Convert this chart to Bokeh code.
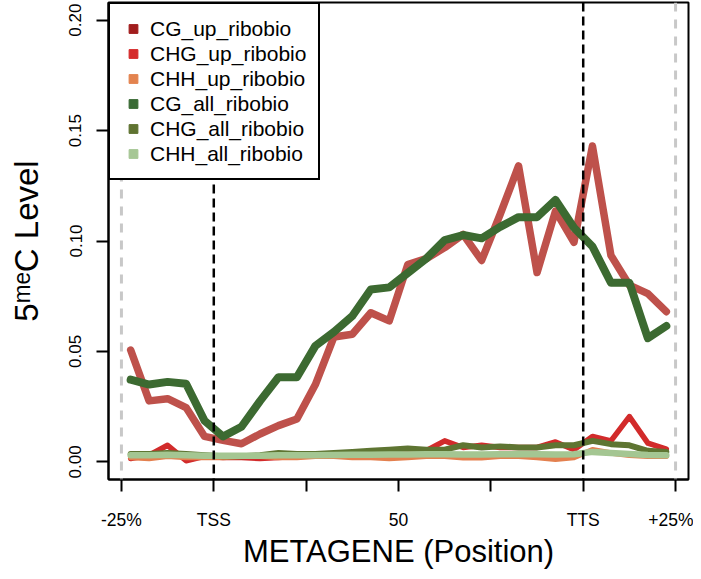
import numpy as np
from bokeh.plotting import figure
from bokeh.models import Span, Legend, LegendItem, FixedTicker, Range1d
from bokeh.embed import file_html
from bokeh.resources import INLINE

# ---- data ----
bins = [i + 0.5 for i in range(30)]
cg_up = [0.0506, 0.0276, 0.0286, 0.0246, 0.0115, 0.0097, 0.0082, 0.0126, 0.0164, 0.0194,
         0.0350, 0.0565, 0.0578, 0.0675, 0.0638, 0.0893, 0.0920, 0.0970, 0.1030, 0.0912,
         0.1120, 0.1340, 0.0857, 0.1136, 0.0994, 0.1430, 0.0935, 0.0800, 0.0762, 0.0680]
chg_up = [0.0015, 0.0030, 0.0075, 0.0005, 0.0025, 0.0020, 0.0020, 0.0015, 0.0020, 0.0025,
          0.0025, 0.0030, 0.0030, 0.0035, 0.0040, 0.0040, 0.0050, 0.0095, 0.0065, 0.0075,
          0.0065, 0.0065, 0.0065, 0.0090, 0.0055, 0.0115, 0.0095, 0.0205, 0.0085, 0.0058]
chh_up = [0.0020, 0.0015, 0.0025, 0.0020, 0.0020, 0.0020, 0.0025, 0.0025, 0.0020, 0.0020,
          0.0025, 0.0025, 0.0020, 0.0020, 0.0015, 0.0020, 0.0025, 0.0025, 0.0018, 0.0018,
          0.0025, 0.0025, 0.0020, 0.0012, 0.0020, 0.0055, 0.0040, 0.0030, 0.0025, 0.0025]
cg_all = [0.0372, 0.0350, 0.0362, 0.0354, 0.0186, 0.0115, 0.0159, 0.0275, 0.0383, 0.0383,
          0.0525, 0.0588, 0.0660, 0.0780, 0.0790, 0.0855, 0.0920, 0.1004, 0.1027, 0.1012,
          0.1064, 0.1108, 0.1108, 0.1186, 0.1060, 0.0975, 0.0811, 0.0811, 0.0560, 0.0615]
chg_all = [0.0035, 0.0035, 0.0040, 0.0035, 0.0030, 0.0025, 0.0025, 0.0030, 0.0040, 0.0035,
           0.0035, 0.0040, 0.0045, 0.0050, 0.0055, 0.0060, 0.0055, 0.0055, 0.0075, 0.0065,
           0.0070, 0.0065, 0.0065, 0.0075, 0.0075, 0.0095, 0.0080, 0.0075, 0.0050, 0.0045]
chh_all = [0.0030, 0.0030, 0.0032, 0.0030, 0.0028, 0.0027, 0.0027, 0.0028, 0.0030, 0.0030,
           0.0030, 0.0031, 0.0032, 0.0032, 0.0033, 0.0033, 0.0034, 0.0034, 0.0033, 0.0033,
           0.0034, 0.0035, 0.0034, 0.0033, 0.0034, 0.0045, 0.0040, 0.0035, 0.0031, 0.0030]

series_names = ["CG_up_ribobio", "CHG_up_ribobio", "CHH_up_ribobio",
                "CG_all_ribobio", "CHG_all_ribobio", "CHH_all_ribobio"]
series_values = [cg_up, chg_up, chh_up, cg_all, chg_all, chh_all]
line_colors = ["#BE514B", "#D22B2B", "#E3804F", "#3C6A31", "#5E7532", "#A4C692"]
legend_colors = ["#A11D1D", "#D52B2B", "#E3834F", "#3A6B35", "#5F7331", "#A6C795"]
line_widths = [7.5, 5.5, 5.5, 8, 6, 6.5]

x_tick_pos = [0, 5, 10, 15, 20, 25, 30]
x_tick_labels = ["-25%", "TSS", "", "50", "", "TTS", "+25%"]
y_tick_pos = [0.0, 0.05, 0.10, 0.15, 0.20]
y_tick_labels = ["0.00", "0.05", "0.10", "0.15", "0.20"]
black_marks = [5, 25]
gray_marks = [0, 30]

x_title = "METAGENE (Position)"
y_title = "5\u1d50\u1d49C Level"

FONT = "Liberation Sans"
W, H = 693, 571

p = figure(width=W, height=H, output_backend="svg", toolbar_location=None,
           x_range=Range1d(-0.7, 30.7), y_range=Range1d(-0.008, 0.208),
           min_border_left=108, min_border_right=W - 688, min_border_top=2,
           min_border_bottom=H - 481)
p.grid.visible = False
p.outline_line_color = "black"
p.outline_line_width = 2
p.outline_line_alpha = 1
p.background_fill_color = "white"
p.border_fill_color = "white"

for vals, col, lw in zip(series_values, line_colors, line_widths):
    p.line(bins, vals, line_color=col, line_width=lw, line_join="round", line_cap="round")

items = []
for name, col in zip(series_names, legend_colors):
    r = p.scatter([np.nan], [np.nan], marker="square", fill_color=col, line_color=col)
    items.append(LegendItem(label=name, renderers=[r]))

for xm in gray_marks:
    p.add_layout(Span(location=xm, dimension="height", line_color="#C8C8C8",
                      line_width=3, line_dash="9 8"))
for xm in black_marks:
    p.add_layout(Span(location=xm, dimension="height", line_color="black",
                      line_width=2.5, line_dash="9 5"))

legend = Legend(items=items, location="top_left", margin=0, padding=12, spacing=0,
                glyph_width=22, glyph_height=25, label_height=25, label_standoff=6,
                label_text_font_size="21px", label_text_font=FONT,
                label_text_color="black",
                border_line_color="black", border_line_width=2, border_line_alpha=1,
                background_fill_color="white", background_fill_alpha=1)
p.add_layout(legend)

xa = p.xaxis[0]
xa.ticker = FixedTicker(ticks=x_tick_pos)
xa.major_label_overrides = {t: l for t, l in zip(x_tick_pos, x_tick_labels)}
xa.minor_tick_line_color = None
xa.major_tick_out = 12
xa.major_tick_in = 0
xa.major_tick_line_width = 2
xa.major_tick_line_color = "black"
xa.axis_line_color = "black"
xa.axis_line_width = 2
xa.major_label_text_font = FONT
xa.major_label_text_font_size = "17.5px"
xa.major_label_text_color = "black"
xa.major_label_standoff = 18
xa.axis_label = x_title
xa.axis_label_text_font = FONT
xa.axis_label_text_font_size = "31px"
xa.axis_label_text_font_style = "normal"
xa.axis_label_text_color = "black"
xa.axis_label_standoff = 1

ya = p.yaxis[0]
ya.ticker = FixedTicker(ticks=y_tick_pos)
ya.major_label_overrides = {t: l for t, l in zip(y_tick_pos, y_tick_labels)}
ya.minor_tick_line_color = None
ya.major_tick_out = 12
ya.major_tick_in = 0
ya.major_tick_line_width = 2
ya.major_tick_line_color = "black"
ya.axis_line_color = "black"
ya.axis_line_width = 2
ya.major_label_text_font = FONT
ya.major_label_text_font_size = "17px"
ya.major_label_text_color = "black"
ya.major_label_orientation = "vertical"
ya.major_label_standoff = 15
ya.axis_label = y_title
ya.axis_label_text_font = FONT
ya.axis_label_text_font_size = "33px"
ya.axis_label_text_font_style = "normal"
ya.axis_label_text_color = "black"
ya.axis_label_standoff = 22

open("out.html", "w").write(file_html(p, INLINE))
